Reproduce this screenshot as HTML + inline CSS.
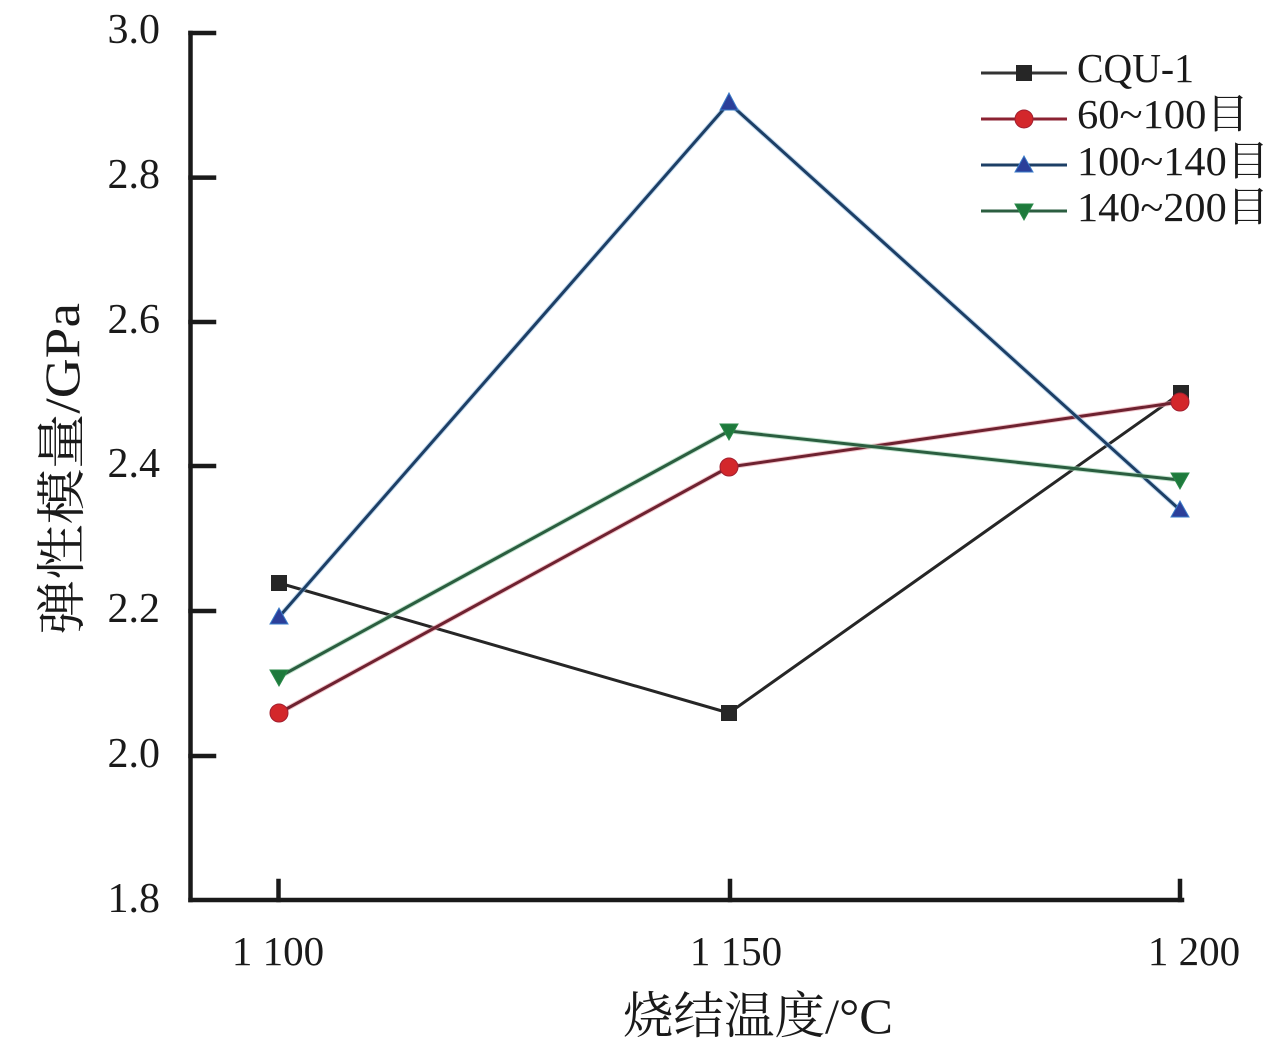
<!DOCTYPE html>
<html>
<head>
<meta charset="utf-8">
<style>
  html, body { margin: 0; padding: 0; background: #fff; }
  svg { display: block; }
  text { font-family: "Liberation Serif", "Noto Serif CJK SC", serif; fill: #1a1a1a; }
</style>
</head>
<body>
<svg width="1276" height="1051" viewBox="0 0 1276 1051" xmlns="http://www.w3.org/2000/svg">
  <rect width="1276" height="1051" fill="#fff"/>

  <!-- Axes -->
  <g stroke="#1a1a1a" stroke-width="4.5" fill="none" stroke-linecap="square">
    <line x1="190.5" y1="33" x2="190.5" y2="900"/>
    <line x1="190.5" y1="900" x2="1182" y2="900"/>
    <line x1="190.5" y1="33" x2="214" y2="33"/>
    <line x1="190.5" y1="177.6" x2="214" y2="177.6"/>
    <line x1="190.5" y1="322" x2="214" y2="322"/>
    <line x1="190.5" y1="466" x2="214" y2="466"/>
    <line x1="190.5" y1="611" x2="214" y2="611"/>
    <line x1="190.5" y1="756" x2="214" y2="756"/>
    <line x1="278.5" y1="900" x2="278.5" y2="881"/>
    <line x1="730" y1="900" x2="730" y2="881"/>
    <line x1="1180" y1="900" x2="1180" y2="881"/>
  </g>

  <!-- Y tick labels -->
  <g font-size="42" text-anchor="end">
    <text x="160" y="43">3.0</text>
    <text x="160" y="188">2.8</text>
    <text x="160" y="333">2.6</text>
    <text x="160" y="477">2.4</text>
    <text x="160" y="622">2.2</text>
    <text x="160" y="767">2.0</text>
    <text x="160" y="912">1.8</text>
  </g>

  <!-- X tick labels -->
  <g font-size="41" text-anchor="middle">
    <text x="278" y="965">1 100</text>
    <text x="736" y="965">1 150</text>
    <text x="1194" y="965">1 200</text>
  </g>

  <!-- Axis titles -->
  <text x="758" y="1033" font-size="50" text-anchor="middle" textLength="270" lengthAdjust="spacingAndGlyphs">烧结温度/°C</text>
  <text transform="translate(79,469) rotate(-90)" x="0" y="0" font-size="50" text-anchor="middle" textLength="332" lengthAdjust="spacingAndGlyphs">弹性模量/GPa</text>

  <!-- Series lines -->
  <g fill="none" stroke-width="3" stroke-linejoin="round">
    <polyline points="279,583 729,713 1181,393" stroke="#262626"/>
    <polyline points="279,713 729,467 1180,402" stroke="#e9a0aa" stroke-width="5" opacity="0.6"/>
    <polyline points="279,713 729,467 1180,402" stroke="#6e2230"/>
    <polyline points="279,617 729,103 1180,510" stroke="#9cc3e6" stroke-width="5" opacity="0.6"/>
    <polyline points="279,617 729,103 1180,510" stroke="#1d3f66"/>
    <polyline points="279,677 729,431 1180,480" stroke="#9fd3b0" stroke-width="5" opacity="0.6"/>
    <polyline points="279,677 729,431 1180,480" stroke="#2b5e40"/>
  </g>

  <g fill="#262626">
    <rect x="271" y="575" width="16" height="16"/>
    <rect x="721" y="705" width="16" height="16"/>
    <rect x="1173" y="385" width="16" height="16"/>
  </g>
  <g fill="#d3272b" stroke="#a22030" stroke-width="1">
    <circle cx="279" cy="713" r="9"/>
    <circle cx="729" cy="467" r="9"/>
    <circle cx="1180" cy="402" r="9"/>
  </g>
  <g fill="#2b3f9a" stroke="#3a7bc8" stroke-width="1">
    <polygon points="270,624 288,624 279,608"/>
    <polygon points="720,110 738,110 729,93"/>
    <polygon points="1171,517 1189,517 1180,501"/>
  </g>
  <g fill="#1e7a3c" stroke="#2b8a4a" stroke-width="1">
    <polygon points="270,670 288,670 279,686"/>
    <polygon points="720,424 738,424 729,440"/>
    <polygon points="1171,473 1189,473 1180,489"/>
  </g>

  <!-- Legend -->
  <g stroke-width="3">
    <line x1="981" y1="73" x2="1067" y2="73" stroke="#333"/>
    <line x1="981" y1="119" x2="1067" y2="119" stroke="#8b2232"/>
    <line x1="981" y1="165" x2="1067" y2="165" stroke="#1d3f66"/>
    <line x1="981" y1="211" x2="1067" y2="211" stroke="#2b5e40"/>
  </g>
  <rect x="1016" y="65" width="16" height="16" fill="#262626"/>
  <circle cx="1024" cy="119" r="9" fill="#d3272b" stroke="#a22030" stroke-width="1"/>
  <polygon points="1015,172 1033,172 1024,156" fill="#2b3f9a" stroke="#3a7bc8" stroke-width="1"/>
  <polygon points="1015,204 1033,204 1024,220" fill="#1e7a3c" stroke="#2b8a4a" stroke-width="1"/>
  <g font-size="41">
    <text x="1077" y="82" textLength="117" lengthAdjust="spacingAndGlyphs">CQU-1</text>
    <text x="1077" y="128" textLength="172" lengthAdjust="spacingAndGlyphs">60~100目</text>
    <text x="1077" y="175" textLength="192" lengthAdjust="spacingAndGlyphs">100~140目</text>
    <text x="1077" y="221" textLength="192" lengthAdjust="spacingAndGlyphs">140~200目</text>
  </g>
</svg>
</body>
</html>
